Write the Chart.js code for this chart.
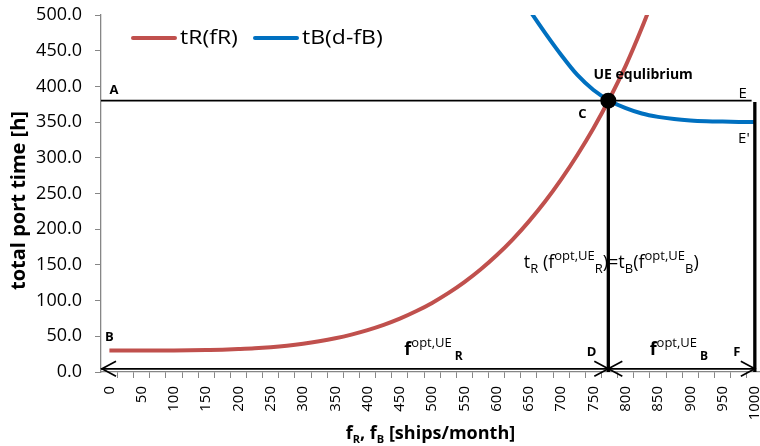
<!DOCTYPE html>
<html>
<head>
<meta charset="utf-8">
<script src="https://cdn.jsdelivr.net/npm/chart.js@4/dist/chart.umd.min.js"></script>
<style>
  html, body { margin: 0; padding: 0; background: #fff; overflow: hidden; }
  #wrap { width: 760px; height: 446px; }
</style>
</head>
<body>
<div id="wrap"><canvas id="chart" width="760" height="446"></canvas></div>
<script>
// port time curves

// tR(fR): ships/month and hours
const F_R = [0, 25, 50, 75, 100, 125, 150, 175, 200, 225, 250, 275, 300, 325, 350, 375, 400,
             425, 450, 475, 500, 525, 550, 575, 600, 625, 650, 675, 700, 725, 750, 775, 800, 825, 850];
const T_R = [30, 30, 30, 30, 30.1, 30.3, 30.7, 31.2, 32.1, 33.2, 34.8, 36.9, 39.6, 43, 47.2, 52.4, 58.6,
             66, 74.7, 85, 96.8, 110.4, 125.9, 143.5, 163.4, 185.8, 211, 238.8, 269.8, 304, 341.5, 383, 429, 482, 540];

// tB(d-fB)
const F_B = [625, 650, 675, 700, 725, 750, 775, 800, 825, 850, 875, 900, 925, 950, 975, 1000];
const T_B = [543, 508, 475, 444, 416, 395, 380, 369.5, 362, 357.3, 354.3, 352.4, 351.3, 350.7, 350.3, 350];

// UE equilibrium and guide lines
const EQ_F = 773;
const EQ_T = 380;
const LINE_AE_X = [-13, 995];
const LINE_F_X = 1000;
const LINE_F_TOP = 378;
const ARROW_Y = 4.5;

// axis ticks
const X_LABELS = [0, 50, 100, 150, 200, 250, 300, 350, 400, 450, 500, 550, 600, 650, 700, 750, 800, 850, 900, 950, 1000];
const X_MARKS = [12.5, 37.5, 62.5, 87.5, 112.5, 137.5, 162.5, 187.5, 212.5, 237.5, 262.5, 287.5, 312.5, 337.5,
                 362.5, 387.5, 412.5, 437.5, 462.5, 487.5, 512.5, 537.5, 562.5, 587.5, 612.5, 637.5, 662.5,
                 687.5, 712.5, 737.5, 762.5, 787.5, 812.5, 837.5, 862.5, 887.5, 912.5, 937.5, 962.5, 987.5];
const Y_MIN = 0, Y_MAX = 500, Y_STEP = 50;

const RED  = '#C0504D';
const BLUE = '#0070C0';
const AXIS = '#868686';
const FONT = "'Open Sans', sans-serif";

const pts = (xs, ys) => xs.map((x, i) => ({ x, y: ys[i] }));

// ── text helper: draws runs with sub/superscripts ──
function drawRich(ctx, x, y, parts, align) {
  let w = 0;
  parts.forEach(p => { ctx.font = p.f; w += ctx.measureText(p.t).width + (p.gap || 0); });
  if (align === 'center') x -= w / 2;
  parts.forEach(p => {
    ctx.font = p.f;
    x += (p.gap || 0);
    ctx.fillText(p.t, x, y + (p.dy || 0));
    x += ctx.measureText(p.t).width;
  });
}

function arrowHead(ctx, x, y, dir) {
  ctx.beginPath();
  ctx.moveTo(x - dir * 14, y - 7.5);
  ctx.lineTo(x, y);
  ctx.lineTo(x - dir * 14, y + 7.5);
  ctx.stroke();
}

const annotations = {
  id: 'annotations',
  afterDatasetsDraw(chart) {
    const { ctx, chartArea: ca, scales: { x, y } } = chart;
    ctx.save();

    // arrows along the x axis
    ctx.strokeStyle = '#000';
    ctx.lineWidth = 1.7;
    const ay = y.getPixelForValue(ARROW_Y);
    arrowHead(ctx, x.getPixelForValue(LINE_AE_X[0]) + 1, ay, -1);
    arrowHead(ctx, x.getPixelForValue(EQ_F), ay, 1);
    arrowHead(ctx, x.getPixelForValue(EQ_F), ay, -1);
    arrowHead(ctx, x.getPixelForValue(LINE_F_X), ay, 1);

    // point letters
    ctx.fillStyle = '#000';
    ctx.textBaseline = 'middle';
    const bold = 'bold 13px ' + FONT;
    const reg  = '15px ' + FONT;
    const letter = (t, fx, ty, font, align) => {
      ctx.font = font;
      ctx.textAlign = align || 'center';
      ctx.fillText(t, x.getPixelForValue(fx), y.getPixelForValue(ty));
    };
    letter('A', 0, 394.5, bold, 'left');
    letter('B', 0, 48, bold);
    letter('C', 733, 361, bold);
    letter('D', 747, 28, bold);
    letter('F', 972, 27.6, bold);
    letter('E', 981, 390, reg);
    letter("E'", 983, 327, reg);
    letter('UE equlibrium', 750, 415.5, 'bold 14px ' + FONT, 'left');

    // equation and flow labels
    ctx.textAlign = 'left';
    ctx.textBaseline = 'alphabetic';
    const M = '18px ' + FONT, S = '13px ' + FONT;
    drawRich(ctx, x.getPixelForValue(642), y.getPixelForValue(146), [
      { t: 't', f: M }, { t: 'R', f: S, dy: 5 }, { t: ' (f', f: M },
      { t: 'opt,UE', f: S, dy: -8 }, { t: 'R', f: S, dy: 5 }, { t: ')=t', f: M },
      { t: 'B', f: S, dy: 5 }, { t: '(f', f: M }, { t: 'opt,UE', f: S, dy: -8 },
      { t: 'B', f: S, dy: 5 }, { t: ')', f: M }
    ]);
    const flow = sub => [
      { t: 'f', f: 'bold 18px ' + FONT }, { t: 'opt,UE', f: '13px ' + FONT, dy: -8 },
      { t: sub, f: 'bold 12px ' + FONT, dy: 5, gap: 3 }
    ];
    drawRich(ctx, x.getPixelForValue(457), y.getPixelForValue(23.4), flow('R'));
    drawRich(ctx, x.getPixelForValue(837), y.getPixelForValue(23.4), flow('B'));

    // legend
    const lx = ca.left + 32, ly = ca.top + 23;
    [[RED, 'tR(fR)', 0], [BLUE, 'tB(d-fB)', 122]].forEach(([c, t, off]) => {
      ctx.strokeStyle = c;
      ctx.lineWidth = 4;
      ctx.lineCap = 'round';
      ctx.beginPath();
      ctx.moveTo(lx + off, ly);
      ctx.lineTo(lx + off + 42, ly);
      ctx.stroke();
      ctx.save();
      ctx.translate(lx + off + 47, ly);
      ctx.scale(1.15, 1);
      ctx.font = '20px ' + FONT;
      ctx.textBaseline = 'middle';
      ctx.fillText(t, 0, 0);
      ctx.restore();
    });
    ctx.restore();
  },
  afterDraw(chart) {
    const { ctx, chartArea: ca } = chart;
    ctx.save();
    ctx.fillStyle = '#000';
    // y title
    ctx.translate(19, (ca.top + ca.bottom) / 2 + 7);
    ctx.rotate(-Math.PI / 2);
    ctx.font = 'bold 20px ' + FONT;
    ctx.textAlign = 'center';
    ctx.textBaseline = 'middle';
    ctx.fillText('total port time [h]', 0, 0);
    ctx.restore();
    // x title
    ctx.save();
    ctx.fillStyle = '#000';
    ctx.textAlign = 'left';
    ctx.textBaseline = 'alphabetic';
    const B = 'bold 18px ' + FONT, BS = 'bold 11px ' + FONT;
    drawRich(ctx, (ca.left + ca.right) / 2, 439, [
      { t: 'f', f: B }, { t: 'R', f: BS, dy: 4 }, { t: ', f', f: B },
      { t: 'B', f: BS, dy: 4 }, { t: ' [ships/month]', f: B }
    ], 'center');
    ctx.restore();
  }
};

const lineDs = (data, width, order) => ({
  data, borderColor: '#000', borderWidth: width, pointRadius: 0, order, clip: false
});

new Chart(document.getElementById('chart'), {
  type: 'line',
  data: {
    datasets: [
      { label: 'UE', data: [{ x: EQ_F, y: EQ_T }], showLine: false, pointRadius: 8,
        pointBackgroundColor: '#000', pointBorderWidth: 0, order: 0 },
      lineDs([{ x: EQ_F, y: EQ_T }, { x: EQ_F, y: Y_MIN }], 3.3, 1),
      lineDs([{ x: LINE_F_X, y: LINE_F_TOP }, { x: LINE_F_X, y: Y_MIN }], 3.3, 1),
      lineDs([{ x: LINE_AE_X[0], y: EQ_T }, { x: LINE_AE_X[1], y: EQ_T }], 1.8, 4),
      lineDs([{ x: LINE_AE_X[0], y: ARROW_Y }, { x: LINE_F_X, y: ARROW_Y }], 1.7, 1),
      { label: 'tR(fR)', data: pts(F_R, T_R), borderColor: RED, borderWidth: 4,
        pointRadius: 0, cubicInterpolationMode: 'monotone', order: 2 },
      { label: 'tB(d-fB)', data: pts(F_B, T_B), borderColor: BLUE, borderWidth: 4,
        pointRadius: 0, cubicInterpolationMode: 'monotone', order: 3 }
    ]
  },
  options: {
    responsive: false,
    animation: false,
    devicePixelRatio: 1,
    layout: { autoPadding: false, padding: { top: 15, right: 0, bottom: 0, left: 0 } },
    plugins: { legend: { display: false }, tooltip: { enabled: false } },
    scales: {
      x: {
        type: 'linear',
        min: -13,
        max: 1008,
        afterBuildTicks: s => {
          s.ticks = X_LABELS.map(v => ({ value: v, major: false }))
            .concat(X_MARKS.map(v => ({ value: v, mark: true })))
            .sort((a, b) => a.value - b.value);
        },
        afterFit: s => { s.height = 74; s.paddingLeft = 0; s.paddingRight = 0; },
        border: { color: AXIS, width: 1.3 },
        grid: {
          drawOnChartArea: false,
          tickLength: 6,
          color: c => (c.tick && c.tick.mark) ? AXIS : 'rgba(0,0,0,0)'
        },
        ticks: {
          autoSkip: false,
          minRotation: 90,
          maxRotation: 90,
          padding: 8,
          color: '#000',
          font: { family: FONT, size: 15 },
          callback: (v, i, ticks) => ticks[i].mark ? '' : String(v)
        }
      },
      y: {
        min: Y_MIN,
        max: Y_MAX,
        afterFit: s => { s.width = 101; s.paddingTop = 0; s.paddingBottom = 0; },
        border: { color: AXIS, width: 1.3 },
        grid: { drawOnChartArea: false, tickLength: 6, color: AXIS },
        ticks: {
          stepSize: Y_STEP,
          padding: 13,
          color: '#000',
          font: { family: FONT, size: 18 },
          callback: v => v.toFixed(1)
        }
      }
    }
  },
  plugins: [annotations]
});
</script>
</body>
</html>
